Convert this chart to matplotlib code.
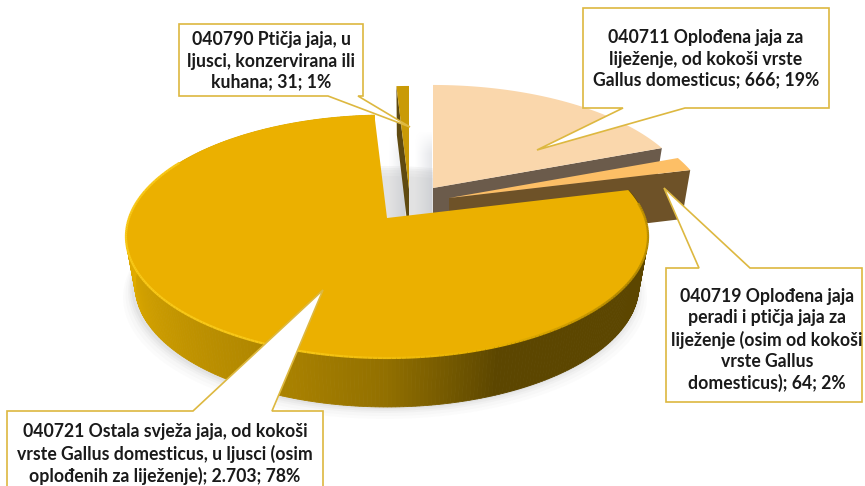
import numpy as np
import matplotlib
matplotlib.use('Agg')
import matplotlib.pyplot as plt
from matplotlib.patches import Polygon
from matplotlib.collections import LineCollection

# data
codes = ['040711', '040719', '040721', '040790']
values = [666, 64, 2703, 31]
labels = [
    '040711 Oplođena jaja za\nliježenje, od kokoši vrste\nGallus domesticus; 666; 19%',
    '040719 Oplođena jaja\nperadi i ptičja jaja za\nliježenje (osim od kokoši\nvrste Gallus\ndomesticus); 64; 2%',
    '040721 Ostala svježa jaja, od kokoši\nvrste Gallus domesticus, u ljusci (osim\noplođenih za liježenje); 2.703; 78%',
    '040790 Ptičja jaja, u\nljusci, konzervirana ili\nkuhana; 31; 1%',
]

# pie projection (pixels)
RX, RY, PERSP, THICK, TAPER = 258.0, 118.7, 0.152, 49.0, 0.965
apex = [(433, 188), (449, 198), (387, 218), (409, 189)]
top_col = ['#FAD7AC', '#FDBF66', '#EBB000', '#C99A06']
cut_col = ['#6B5B4B', '#6E5228', '#8A6A00', '#5F4A10']


def project(a, c):
    # a is clockwise from the back of the pie, in radians
    u, v = np.sin(a), -np.cos(a)
    s = 1 / (1 - PERSP * v)
    return c[0] + RX * u * s, c[1] + RY * v * s


def bottom(x, y, c):
    # lower rim of the wall under a point of the top face
    return c[0] + (x - c[0]) * TAPER, y + THICK


def top_face(a0, a1, c):
    aa = np.linspace(a0, a1, 300)
    x, y = project(aa, c)
    return np.column_stack([np.r_[c[0], x], np.r_[c[1], y]])


fig = plt.figure(figsize=(8.65, 4.86), dpi=100)
ax = fig.add_axes([0, 0, 1, 1])

edges = np.cumsum([0] + values) / sum(values) * 2 * np.pi

# soft shadow under the main slice
aa = np.linspace(0, 2 * np.pi, 300)
sx, sy = project(aa, apex[2])
bx, by = bottom(sx, sy, apex[2])
for grow, alpha in zip([12, 9, 6, 4, 2], [0.02, 0.025, 0.03, 0.04, 0.05]):
    cx = apex[2][0]
    ax.add_patch(Polygon(np.column_stack([cx + (bx - cx) * (1 + grow / 300) - 2, by + grow]),
                         fc='#555555', ec='none', alpha=alpha, zorder=1))

# shade in the gaps behind the main slice
ramp = np.zeros((40, 40, 4))
ramp[..., :3] = [0.60, 0.63, 0.69]
fade_x = np.linspace(0, 0.32, 40) ** 1.2
fade_y = np.clip(np.linspace(0, 4, 40), 0, 1)
ramp[..., 3] = np.outer(fade_y, fade_x)
ax.imshow(ramp, extent=(388, 405, 220, 128), aspect='auto', zorder=1.1)
ax.imshow(ramp, extent=(414, 432, 220, 130), aspect='auto', zorder=1.1)
ax.set_xlim(0, 865)
ax.set_ylim(486, 0)
ax.axis('off')

for i in [0, 3, 1, 2]:
    a0, a1 = edges[i], edges[i + 1]
    c = apex[i]
    # cut face towards the viewer
    if i == 3:
        x, y = project(a0, c)
        xb, yb = bottom(x, y, c)
        ax.add_patch(Polygon([c, (x, y), (xb, yb), (c[0], c[1] + THICK)], fc=cut_col[i], ec='none', zorder=2))
    elif i != 2:
        x, y = project(a1, c)
        xb, yb = bottom(x, y, c)
        ax.add_patch(Polygon([c, (x, y), (xb, yb), (c[0], c[1] + THICK)], fc=cut_col[i], ec='none', zorder=2))
    else:
        # outer wall of the big slice, shaded along the arc
        aa = np.linspace(a0, a1, 360)
        deg = np.degrees(aa)
        rr = np.interp(deg, [75, 158, 180, 205, 240, 262, 360], [0x5C, 0x5C, 0x92, 0xB0, 0xCE, 0xE0, 0xE0])
        gg = rr * 0.765
        x, y = project(aa, c)
        xb, yb = bottom(x, y, c)
        for j in range(len(aa) - 1):
            q = [(x[j], y[j]), (x[j + 1], y[j + 1]), (xb[j + 1], yb[j + 1]), (xb[j], yb[j])]
            col = (rr[j] / 255, gg[j] / 255, 0.0)
            ax.add_patch(Polygon(q, fc=col, ec=col, lw=0.6, zorder=2))
    ax.add_patch(Polygon(top_face(a0, a1, c), fc=top_col[i], ec='none', zorder=2))
    if i == 2:
        # bevel along the rim, dark on the right and bright on the left
        aa = np.linspace(a0 + 0.12, np.radians(300), 240)
        x, y = project(aa, c)
        pts = np.column_stack([x, y])
        segs = np.stack([pts[:-1], pts[1:]], axis=1)
        deg = np.degrees(aa[:-1])
        rim_r = np.interp(deg, [75, 125, 160, 200], [0xC0, 0xB4, 0xEA, 0xF8])
        rim_g = np.interp(deg, [75, 125, 160, 200], [0x92, 0x8A, 0xB2, 0xC8])
        rim_b = np.interp(deg, [75, 125, 160, 200], [0x00, 0x00, 0x00, 0x18])
        cols = np.column_stack([rim_r, rim_g, rim_b]) / 255
        ax.add_collection(LineCollection(segs, colors=cols, linewidths=1.6, zorder=2.5))

# callouts: box corners, pointer (base on the box edge, tip on the slice), text centre
boxes = {
    0: dict(box=(583, 8, 829, 108), ptr=[(685, 108), (537, 150), (623, 108)], text=(706, 59)),
    1: dict(box=(666, 268, 862, 402), ptr=[(699, 268), (664, 188), (750, 268)], text=(767, 340)),
    2: dict(box=(7, 411, 323, 492), ptr=[(193, 411), (323, 290), (272, 411)], text=(165, 454)),
    3: dict(box=(179, 24, 363, 96), ptr=[(358, 96), (410, 127), (328, 96)], text=(271, 61)),
}
BOX_EDGE = '#DDB840'
for i, b in boxes.items():
    x0, y0, x1, y1 = b['box']
    p = b['ptr']
    if p[0][1] == y0:  # pointer leaves from the top edge
        outline = [(x0, y0), p[0], p[1], p[2], (x1, y0), (x1, y1), (x0, y1)]
    else:
        outline = [(x0, y0), (x1, y0), (x1, y1), p[0], p[1], p[2], (x0, y1)]
    ax.add_patch(Polygon(outline, fc='white', ec=BOX_EDGE, lw=1.2, joinstyle='miter', zorder=5))
    ax.text(b['text'][0], b['text'][1], labels[i], ha='center', va='center',
            fontsize=12.7, fontweight='bold', family='Lato', color='#1A1A1A', linespacing=1.3, zorder=6)

fig.savefig('out.png', dpi=100)
